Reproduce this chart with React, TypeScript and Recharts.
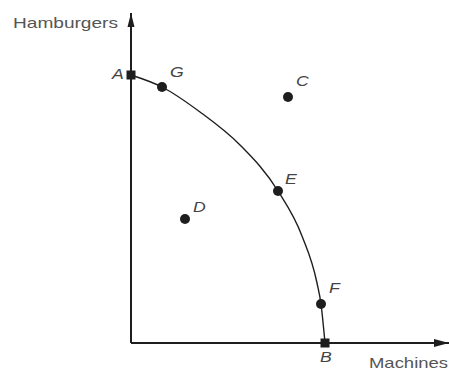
import React from 'react';
import { ComposedChart, Line, Scatter, XAxis, YAxis, ReferenceLine, ReferenceDot } from 'recharts';

// production possibility frontier (A at the top, B on the x axis)
const curveX = [0, 31, 69, 109, 147, 171, 186, 190, 194];
const curveY = [268, 256, 231, 198, 152, 107, 60, 39, 0];

// labelled points
const pointNames = ['A', 'B', 'C', 'D', 'E', 'F', 'G'];
const pointX = [0, 194, 157, 54, 147, 190, 31];
const pointY = [268, 0, 246, 124, 152, 39, 256];

const X_MAX = 318;
const Y_MAX = 330;

const curveData = curveX.map((x, i) => ({ x, y: curveY[i] }));
const pointData = pointNames.map((name, i) => ({ name, x: pointX[i], y: pointY[i] }));

const FONT = '"Liberation Sans", Arial, sans-serif';
const INK = '#1e1e1e';
const STRETCH = 1.26; // the source picture is a bit wider than tall

// where each letter sits relative to its marker
const labelOffset: Record<string, [number, number]> = {
    A: [-19, 0],
    B: [-5, 15],
    C: [8, -15],
    D: [8, -11],
    E: [7, -11],
    F: [8, -15],
    G: [8, -14],
};

const PointShape = (props: any) => {
    const { cx, cy, payload } = props;
    const name = payload.name;
    const square = name === 'A' || name === 'B';
    const [dx, dy] = labelOffset[name];
    return (
        <g>
            {square ? (
                <rect x={cx - 4.5} y={cy - 4.5} width={9} height={9} fill={INK} />
            ) : (
                <circle cx={cx} cy={cy} r={5} fill={INK} />
            )}
            <text
                transform={`translate(${cx + dx},${cy + dy}) scale(${STRETCH},1)`}
                fontFamily={FONT}
                fontStyle="italic"
                fontSize={14}
                fill="#444"
                dominantBaseline="middle"
            >
                {name}
            </text>
        </g>
    );
};

const UpArrow = ({ cx, cy }: any) => (
    <polygon points={`${cx},${cy} ${cx - 3.5},${cy + 14} ${cx + 3.5},${cy + 14}`} fill={INK} />
);

const RightArrow = ({ cx, cy }: any) => (
    <polygon points={`${cx},${cy} ${cx - 15},${cy - 4} ${cx - 15},${cy + 4}`} fill={INK} />
);

export default function App() {
    return (
        <div style={{ position: 'absolute', left: 0, top: 0, width: 449, height: 373, background: '#fff' }}>
            <ComposedChart
                width={449}
                height={373}
                margin={{ top: 13, right: 0, bottom: 30, left: 131 }}
            >
                <XAxis type="number" dataKey="x" domain={[0, X_MAX]} hide />
                <YAxis type="number" dataKey="y" domain={[0, Y_MAX]} hide />
                <ReferenceLine
                    segment={[{ x: 0, y: 0 }, { x: X_MAX, y: 0 }]}
                    stroke={INK}
                    strokeWidth={2}
                    ifOverflow="visible"
                />
                <ReferenceLine
                    segment={[{ x: 0, y: 0 }, { x: 0, y: Y_MAX }]}
                    stroke={INK}
                    strokeWidth={2}
                    ifOverflow="visible"
                />
                <ReferenceDot x={0} y={Y_MAX} ifOverflow="visible" shape={UpArrow} />
                <ReferenceDot x={X_MAX} y={0} ifOverflow="visible" shape={RightArrow} />
                <Line
                    data={curveData}
                    dataKey="y"
                    type="monotone"
                    stroke={INK}
                    strokeWidth={1.4}
                    dot={false}
                    activeDot={false}
                    isAnimationActive={false}
                />
                <Scatter data={pointData} dataKey="y" shape={PointShape} isAnimationActive={false} />
            </ComposedChart>
            <svg
                width={449}
                height={373}
                style={{ position: 'absolute', left: 0, top: 0, pointerEvents: 'none' }}
            >
                <text
                    x={13}
                    y={28}
                    fontFamily={FONT}
                    fontSize={15}
                    fill="#555"
                    textLength={105}
                    lengthAdjust="spacingAndGlyphs"
                >
                    Hamburgers
                </text>
                <text
                    x={369}
                    y={368}
                    fontFamily={FONT}
                    fontSize={15}
                    fill="#555"
                    textLength={79}
                    lengthAdjust="spacingAndGlyphs"
                >
                    Machines
                </text>
            </svg>
        </div>
    );
}
